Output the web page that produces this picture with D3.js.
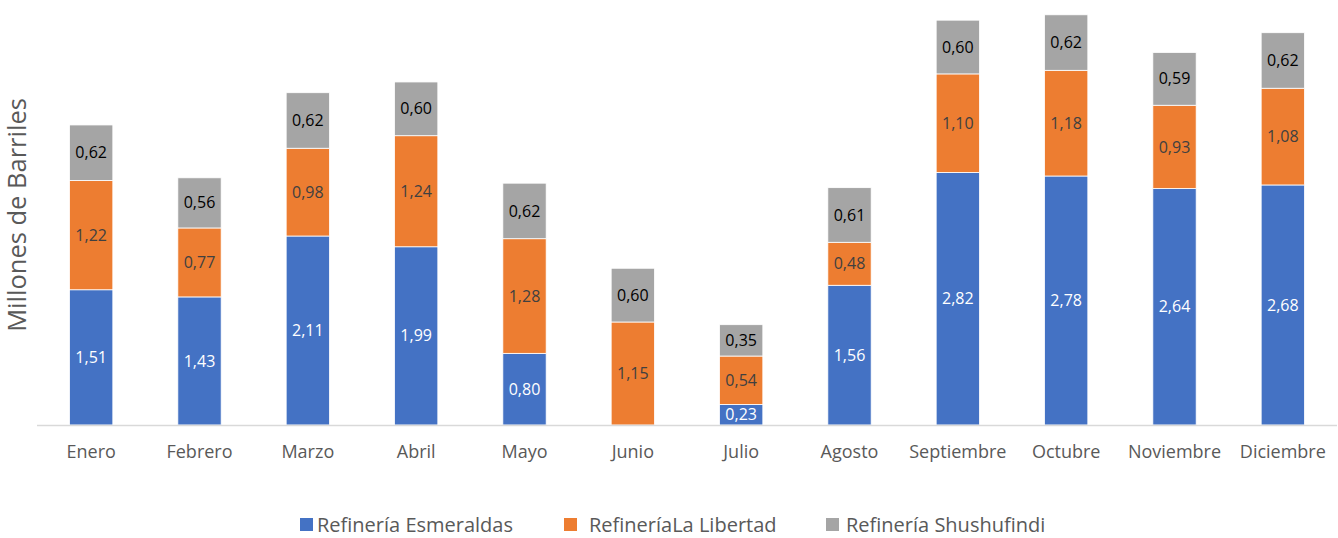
<!DOCTYPE html>
<html>
<head>
<meta charset="utf-8">
<script src="https://cdn.jsdelivr.net/npm/d3@7"></script>
<style>
    body { margin: 0; background: #fff; }
    text { font-family: "Open Sans", sans-serif; }
</style>
</head>
<body>
<script>
const months = ["Enero", "Febrero", "Marzo", "Abril", "Mayo", "Junio", "Julio",
    "Agosto", "Septiembre", "Octubre", "Noviembre", "Diciembre"];
const esmeraldas = [1.51, 1.43, 2.11, 1.99, 0.80, 0, 0.23, 1.56, 2.82, 2.78, 2.64, 2.68];
const libertad = [1.22, 0.77, 0.98, 1.24, 1.28, 1.15, 0.54, 0.48, 1.10, 1.18, 0.93, 1.08];
const shushufindi = [0.62, 0.56, 0.62, 0.60, 0.62, 0.60, 0.35, 0.61, 0.60, 0.62, 0.59, 0.62];
const seriesNames = ["Refinería Esmeraldas", "RefineríaLa Libertad", "Refinería Shushufindi"];

const width = 1338;
const height = 538;
const baseY = 425;

const colors = ["#4472C4", "#ED7D31", "#A5A5A5"];
const labelColors = ["#ffffff", "#404040", "#000000"];

const svg = d3.select("body").append("svg")
    .attr("width", width)
    .attr("height", height);

const keys = ["esm", "lib", "shu"];
const rows = months.map((m, i) => ({
    month: m, esm: esmeraldas[i], lib: libertad[i], shu: shushufindi[i]
}));
const stacked = d3.stack().keys(keys)(rows);

const xScale = d3.scaleBand()
    .domain(months)
    .range([37, 1337])
    .paddingInner(0.6)
    .paddingOuter(0.3);

const yScale = d3.scaleLinear()
    .domain([0, 4.6])
    .range([baseY, 13]);

const fmt = v => v.toFixed(2).replace(".", ",");

const layers = svg.selectAll("g.layer")
    .data(stacked)
    .enter().append("g")
    .attr("class", "layer")
    .attr("fill", (d, i) => colors[i]);

layers.selectAll("rect")
    .data(d => d)
    .enter().append("rect")
    .attr("x", d => xScale(d.data.month))
    .attr("y", d => yScale(d[1]))
    .attr("width", xScale.bandwidth())
    .attr("height", d => yScale(d[0]) - yScale(d[1]))
    .attr("stroke", "#fff")
    .attr("stroke-width", 0.8);

layers.selectAll("text")
    .data((d, i) => d.map(p => ({ p: p, i: i })).filter(o => o.p[1] - o.p[0] > 0))
    .enter().append("text")
    .attr("x", o => xScale(o.p.data.month) + xScale.bandwidth() / 2)
    .attr("y", o => (yScale(o.p[0]) + yScale(o.p[1])) / 2)
    .attr("dy", "0.35em")
    .attr("text-anchor", "middle")
    .style("font-size", "16px")
    .attr("fill", o => labelColors[o.i])
    .text(o => fmt(o.p[1] - o.p[0]));

// x axis
const xAxis = svg.append("g")
    .attr("transform", "translate(0," + baseY + ")")
    .call(d3.axisBottom(xScale).tickSize(0).tickPadding(20));
xAxis.select(".domain").attr("stroke", "#d9d9d9").attr("stroke-width", 1.5)
    .attr("d", "M37,0.5H1337");
xAxis.selectAll("text")
    .style("font-size", "18px")
    .style("font-family", "'Open Sans', sans-serif")
    .attr("fill", "#595959");

svg.append("text")
    .attr("transform", "translate(26,215) rotate(-90)")
    .attr("text-anchor", "middle")
    .style("font-size", "25.5px")
    .attr("fill", "#595959")
    .text("Millones de Barriles");

// legend
const legendX = [300, 564, 826];
const legendTextGap = [17, 25, 20];
const legend = svg.append("g").attr("id", "legend");
const item = legend.selectAll("g")
    .data(seriesNames)
    .enter().append("g")
    .attr("transform", (d, i) => "translate(" + legendX[i] + ",518)");
item.append("rect")
    .attr("width", 13)
    .attr("height", 13)
    .attr("fill", (d, i) => colors[i]);
item.append("text")
    .attr("x", (d, i) => legendTextGap[i])
    .attr("y", 7)
    .attr("dy", "0.35em")
    .style("font-size", "20px")
    .attr("fill", "#595959")
    .text(d => d);
</script>
</body>
</html>
